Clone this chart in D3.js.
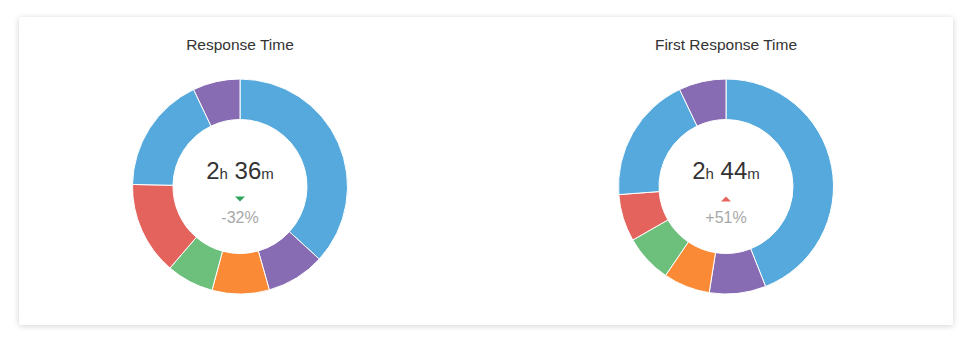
<!DOCTYPE html>
<html>
<head>
<meta charset="utf-8">
<script src="https://cdn.jsdelivr.net/npm/d3@7"></script>
<style>
  html, body { margin: 0; padding: 0; background: #fff; }
  body { width: 970px; height: 350px; overflow: hidden; font-family: "Liberation Sans", Arial, sans-serif; }
  .card { position: absolute; left: 19px; top: 17px; width: 934px; height: 308px; background: #fff;
          box-shadow: 0 1px 6px rgba(0,0,0,0.18); border-radius: 2px; }
  svg { position: absolute; left: 0; top: 0; }
  .title { font-size: 15.5px; fill: #333; }
  .big { font-size: 24px; fill: #333; }
  .unit { font-size: 15px; fill: #333; }
  .pct { font-size: 16px; fill: #a8a8a8; }
</style>
</head>
<body>
<div class="card"></div>
<script>
// chart data
const titles = ['Response Time', 'First Response Time'];
const hours = [2, 2];
const minutes = [36, 44];
const changes = [-32, 51];
const segments = ['s1', 's2', 's3', 's4', 's5', 's6', 's7'];
const responseTime = [36.8, 8.8, 8.6, 7.1, 14.0, 17.6, 7.1];
const firstResponseTime = [44.0, 8.5, 7.0, 7.2, 7.1, 19.1, 7.1];
const segColors = ['#55a9dc', '#886cb3', '#fb8a37', '#6cc07c', '#e4635d', '#55a9dc', '#886cb3'];
const series = [responseTime, firstResponseTime];

const width = 970, height = 350;
const centers = [240, 726];
const cy = 186.5;
const outer = 107.5, inner = 67;

const svg = d3.select('body').append('svg')
    .attr('width', width)
    .attr('height', height);

const color = d3.scaleOrdinal().domain(segments).range(segColors);
const pie = d3.pie().sort(null).value(d => d.v);
const arc = d3.arc().innerRadius(inner).outerRadius(outer);

series.forEach((vals, i) => {
    const g = svg.append('g').attr('transform', `translate(${centers[i]},${cy})`);

    // title
    g.append('text')
        .attr('class', 'title')
        .attr('text-anchor', 'middle')
        .attr('y', 49.5 - cy)
        .text(titles[i]);

    // donut slices
    g.selectAll('.slice')
        .data(pie(vals.map((v, j) => ({ k: segments[j], v }))))
        .enter().append('path')
        .attr('class', 'slice')
        .attr('d', arc)
        .attr('fill', d => color(d.data.k))
        .attr('stroke', '#fff')
        .attr('stroke-width', 1);

    // total in the middle
    const t = g.append('text').attr('text-anchor', 'middle').attr('y', -8);
    t.append('tspan').attr('class', 'big').text(hours[i]);
    t.append('tspan').attr('class', 'unit').text('h');
    t.append('tspan').attr('class', 'big').text(' ' + minutes[i]);
    t.append('tspan').attr('class', 'unit').text('m');

    // change arrow
    const up = changes[i] > 0;
    const tri = up ? 'M-5,15 L5,15 L0,10 Z' : 'M-5,10 L5,10 L0,15 Z';
    g.append('path')
        .attr('d', tri)
        .attr('fill', up ? '#e4635d' : '#2ea55a');

    g.append('text')
        .attr('class', 'pct')
        .attr('text-anchor', 'middle')
        .attr('y', 36.5)
        .text((up ? '+' : '') + changes[i] + '%');
});
</script>
</body>
</html>
